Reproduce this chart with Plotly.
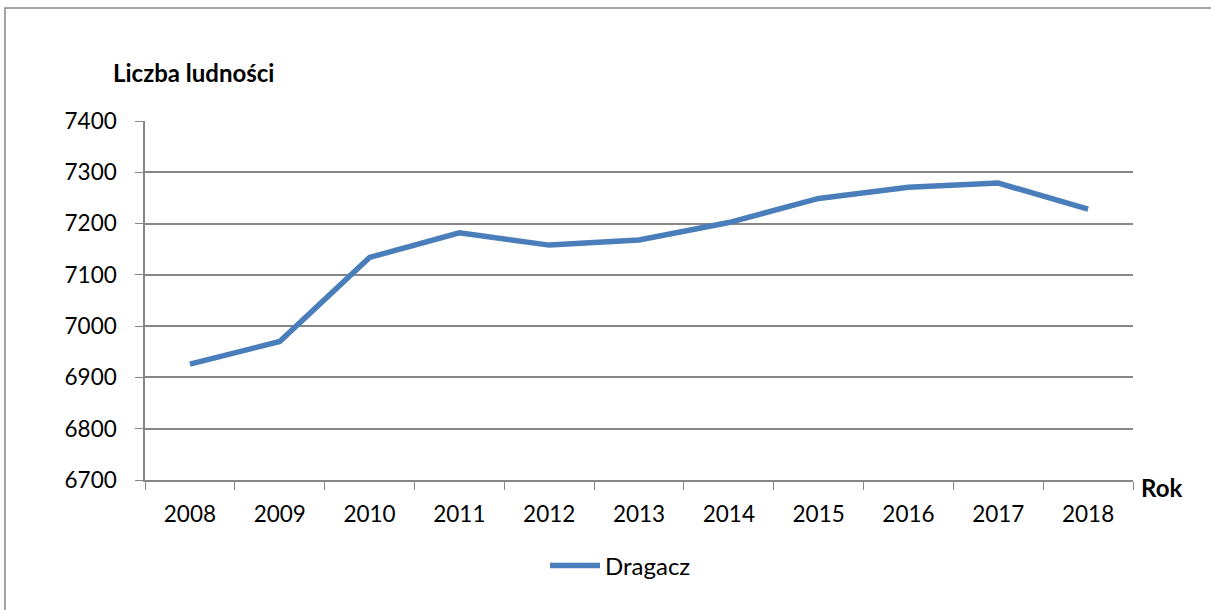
import plotly.graph_objects as go

years = ["2008", "2009", "2010", "2011", "2012", "2013", "2014", "2015", "2016", "2017", "2018"]
population = [6926, 6970, 7134, 7182, 7158, 7168, 7202, 7249, 7271, 7279, 7228]
series_name = "Dragacz"

W, H = 1211, 610
L, R, T, B = 145, 1133, 121, 480
FONT = "Lato, 'Open Sans', sans-serif"

fig = go.Figure()
fig.add_trace(go.Scatter(
    x=years, y=population, name=series_name, mode="lines",
    line=dict(color="#4A7EBB", width=5.5),
))

fig.update_xaxes(
    type="category", range=[-0.5, 10.5], showgrid=False,
    showline=True, linecolor="#868686", linewidth=1.5,
    ticks="outside", tickson="boundaries", ticklen=8, tickcolor="#868686",
    tickfont=dict(size=22.5, color="#000"), ticklabelstandoff=13,
)
fig.update_yaxes(
    range=[6700, 7400], dtick=100, showgrid=True, gridcolor="#868686", gridwidth=1.5,
    showline=True, linecolor="#868686", linewidth=1.5,
    ticks="outside", ticklen=8, tickcolor="#868686",
    tickfont=dict(size=22.5, color="#000"), zeroline=False, ticklabelstandoff=14,
)

def px(x):
    return (x - L) / (R - L)

def py(y):
    return (B - y) / (B - T)

# outer chart border
fig.add_shape(type="rect", xref="paper", yref="paper",
              x0=px(5), x1=px(1215), y0=py(615), y1=py(8),
              line=dict(color="#868686", width=1.5), fillcolor="rgba(0,0,0,0)")

fig.add_annotation(text="<b>Liczba ludności</b>", xref="paper", yref="paper",
                   x=px(111), y=py(72), xanchor="left", yanchor="middle",
                   showarrow=False, font=dict(size=24, color="#000"))
fig.add_annotation(text="<b>Rok</b>", xref="paper", yref="paper",
                   x=px(1139), y=py(487), xanchor="left", yanchor="middle",
                   showarrow=False, font=dict(size=24, color="#000"))

fig.update_layout(
    width=W, height=H,
    margin=dict(l=L, r=W - R, t=T, b=H - B),
    paper_bgcolor="white", plot_bgcolor="white",
    font=dict(family=FONT, color="#000"),
    showlegend=True,
    legend=dict(orientation="h", x=px(545), y=py(566), xanchor="left", yanchor="middle",
                font=dict(size=24), itemwidth=50),
)

fig.write_html("out.html", config={"displayModeBar": False},
               post_script="document.body.style.margin='0';")
